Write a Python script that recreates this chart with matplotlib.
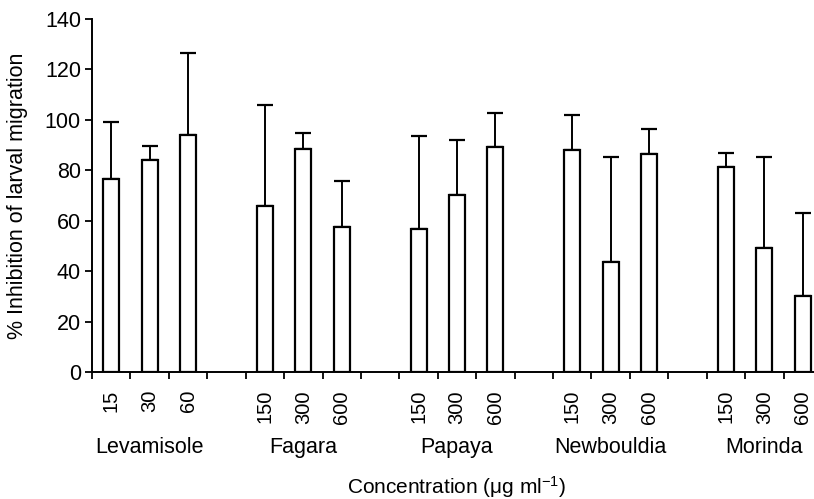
import matplotlib
matplotlib.use("Agg")
import matplotlib.pyplot as plt
import matplotlib.transforms as mtransforms
import numpy as np

plt.rcParams['font.family'] = ['Liberation Sans', 'DejaVu Sans']
plt.rcParams['mathtext.fontset'] = 'custom'
plt.rcParams['mathtext.rm'] = 'Liberation Sans'
plt.rcParams['mathtext.it'] = 'Liberation Sans:italic'

groups = ["Levamisole", "Fagara", "Papaya", "Newbouldia", "Morinda"]
doses = [["15", "30", "60"],
         ["150", "300", "600"],
         ["150", "300", "600"],
         ["150", "300", "600"],
         ["150", "300", "600"]]
means = [[76.6, 84.0, 94.1],
         [65.7, 88.6, 57.6],
         [56.7, 70.3, 89.4],
         [88.1, 43.6, 86.5],
         [81.4, 49.3, 30.1]]
upper = [[99.0, 89.8, 126.5],
         [106.0, 94.9, 75.8],
         [93.7, 92.0, 102.7],
         [101.9, 85.2, 96.4],
         [86.7, 85.2, 62.9]]

# slot positions: 3 bars per group then one empty slot
xs, ys, errs, labels, centers = [], [], [], [], []
for g in range(len(groups)):
    pos = [g * 4 + k for k in range(3)]
    xs += pos
    ys += means[g]
    errs += [u - m for u, m in zip(upper[g], means[g])]
    labels += doses[g]
    centers.append(np.mean(pos))
xs = np.array(xs)

fig = plt.figure(figsize=(8.14, 4.99), dpi=100)
ax = fig.add_axes([92 / 814, 127 / 499, 730 / 814, 353 / 499])

ax.bar(xs, ys, width=0.42, color="white", edgecolor="black", linewidth=1.6, zorder=2)
ax.errorbar(xs, ys, yerr=[np.zeros(len(errs)), errs], fmt="none", ecolor="black",
            elinewidth=1.4, capsize=6, capthick=1.6, zorder=1)

ax.set_xlim(-0.5, 18.5)
ax.set_ylim(0, 140)
ax.set_yticks(np.arange(0, 141, 20))
ax.set_xticks(xs)
ax.set_xticklabels(labels, rotation=90, fontsize=14.5)
ax.set_xticks(np.arange(-0.5, 18.6, 1), minor=True)
ax.tick_params(axis="x", which="major", length=0, pad=13)
ax.tick_params(axis="x", which="minor", length=5, width=1.3)
ax.tick_params(axis="y", length=5, width=1.3, labelsize=15.5, pad=3)

for s in ["top", "right"]:
    ax.spines[s].set_visible(False)
for s in ["left", "bottom"]:
    ax.spines[s].set_linewidth(1.4)

trans = mtransforms.blended_transform_factory(ax.transData, ax.transAxes)
for c, name in zip(centers, groups):
    ax.text(c, -0.2125, name, transform=trans, ha="center", va="center", fontsize=15.5)

ax.text(0.5, -0.325, "Concentration (\u03bcg ml$^{-1}$)", transform=ax.transAxes,
        ha="center", va="center", fontsize=15)
fig.text(18 / 814, 1 - 196 / 499, "% Inhibition of larval migration", rotation=90,
         ha="center", va="center", fontsize=15.5)

fig.savefig("out.png", dpi=100)
